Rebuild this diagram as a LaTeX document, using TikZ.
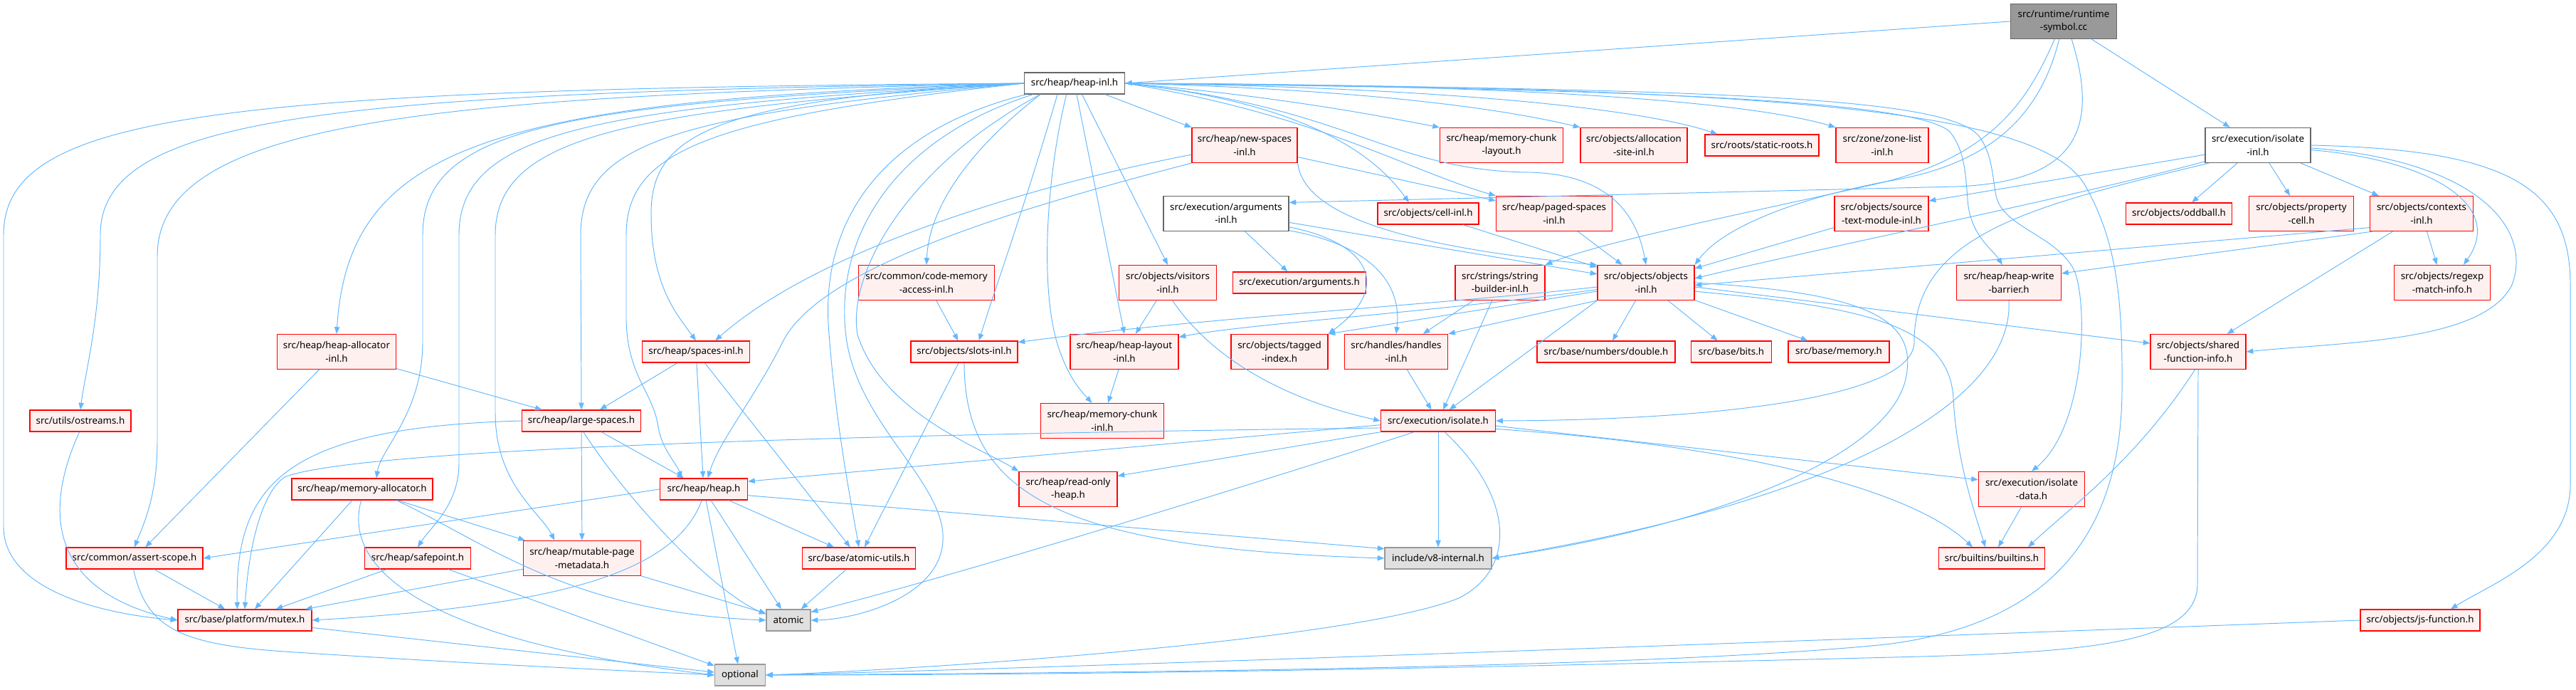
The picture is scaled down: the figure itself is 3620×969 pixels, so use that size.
\documentclass[tikz,border=0pt]{standalone}
\usepackage{fontspec}
\setmainfont{Noto Sans}
\usetikzlibrary{arrows.meta}
\definecolor{edgeblue}{HTML}{63B8FF}
\definecolor{incfill}{HTML}{FFF0F0}
\definecolor{sysfill}{HTML}{E0E0E0}
\definecolor{rootfill}{HTML}{999999}

\begin{document}
\begin{tikzpicture}[x=0.02cm, y=-0.02cm, font=\fontsize{7.6}{10.4}\selectfont,
    file/.style={draw=#1, line width=0.7pt, align=center, inner sep=1pt},
    inc/.style={file=red, fill=incfill},
    sys/.style={file=black!40, fill=sysfill},
    hdr/.style={file=black!60, fill=white},
    e/.style={draw=edgeblue, line width=0.55pt, -{Triangle[length=5.5pt,width=4.2pt]}}]
    \useasboundingbox (0,0) rectangle (3620,969);
    % Root
    \node[file=black!60, fill=rootfill, minimum width=149*0.02cm, minimum height=49*0.02cm]
        (root) at (2900,30) {src/runtime/runtime\\-symbol.cc};
    % Headers
    \foreach \n/\x/\y/\w/\h/\t in {heapinl/1510/117/141/30/{src/heap/heap-inl.h},
        isolateinl/3173/204/148/49/{src/execution/isolate\\-inl.h},
        argsinl/1723/300/176/49/{src/execution/arguments\\-inl.h}}
        \node[hdr, minimum width=\w*0.02cm, minimum height=\h*0.02cm] (\n) at (\x,\y) {\t};
    \foreach \n/\x/\y/\w/\h/\t in {v8internal/2021/784/150/30/{include/v8-internal.h},
        atomic/1108/871/62/30/{atomic}, optional/1040/948/71/30/{optional}}
        \node[sys, minimum width=\w*0.02cm, minimum height=\h*0.02cm] (\n) at (\x,\y) {\t};
    \foreach \n/\x/\y/\w/\h/\t in {
        newspaces/1749/204/148/49/{src/heap/new-spaces\\-inl.h},
        mclayout/2110/204/173/49/{src/heap/memory-chunk\\-layout.h},
        allocsite/2296/204/150/49/{src/objects/allocation\\-site-inl.h},
        staticroots/2476/204/160/30/{src/roots/static-roots.h},
        zonelist/2645/204/130/49/{src/zone/zone-list\\-inl.h},
        cellinl/2007/300/142/30/{src/objects/cell-inl.h},
        pagedspaces/2184/300/163/49/{src/heap/paged-spaces\\-inl.h},
        sourcetext/2644/300/132/49/{src/objects/source\\-text-module-inl.h},
        oddball/3062/300/149/30/{src/objects/oddball.h},
        propcell/3234/300/147/49/{src/objects/property\\-cell.h},
        contexts/3403/300/145/49/{src/objects/contexts\\-inl.h},
        codemem/1302/397/191/49/{src/common/code-memory\\-access-inl.h},
        visitors/1641/397/137/49/{src/objects/visitors\\-inl.h},
        args/1826/397/187/30/{src/execution/arguments.h},
        strbuilder/2108/397/126/49/{src/strings/string\\-builder-inl.h},
        objectsinl/2313/397/136/49/{src/objects/objects\\-inl.h},
        writebarrier/2823/397/147/49/{src/heap/heap-write\\-barrier.h},
        regexp/3432/397/135/49/{src/objects/regexp\\-match-info.h},
        heapalloc/473/494/167/49/{src/heap/heap-allocator\\-inl.h},
        spacesinl/978/494/151/30/{src/heap/spaces-inl.h},
        slotsinl/1355/494/150/30/{src/objects/slots-inl.h},
        heaplayout/1580/494/152/49/{src/heap/heap-layout\\-inl.h},
        tagged/1798/494/136/49/{src/objects/tagged\\-index.h},
        handles/1962/494/145/49/{src/handles/handles\\-inl.h},
        double/2257/494/194/30/{src/base/numbers/double.h},
        bits/2433/494/113/30/{src/base/bits.h},
        memory/2584/494/142/30/{src/base/memory.h},
        sfi/3089/494/134/49/{src/objects/shared\\-function-info.h},
        ostreams/113/591/142/30/{src/utils/ostreams.h},
        largespaces/817/591/167/30/{src/heap/large-spaces.h},
        mcinl/1549/591/173/49/{src/heap/memory-chunk\\-inl.h},
        isolate/2021/591/161/30/{src/execution/isolate.h},
        memalloc/509/687/198/30/{src/heap/memory-allocator.h},
        heap/989/687/123/30/{src/heap/heap.h},
        roheap/1501/687/138/49/{src/heap/read-only\\-heap.h},
        isolatedata/2855/687/149/49/{src/execution/isolate\\-data.h},
        assertscope/189/784/192/30/{src/common/assert-scope.h},
        safepoint/587/784/149/30/{src/heap/safepoint.h},
        mutablepage/818/784/165/49/{src/heap/mutable-page\\-metadata.h},
        atomicutils/1207/784/159/30/{src/base/atomic-utils.h},
        builtins/2799/784/149/30/{src/builtins/builtins.h},
        mutex/344/871/188/30/{src/base/platform/mutex.h},
        jsfunction/3401/871/168/30/{src/objects/js-function.h}}
        \node[inc, minimum width=\w*0.02cm, minimum height=\h*0.02cm] (\n) at (\x,\y) {\t};
    % runtime-symbol.cc
    \draw[e] (root.west) -- (heapinl.east);
    \draw[e] (root) -- (isolateinl);
    \draw[e] (root.243) .. controls (2850,140) and (2800,225) .. (2620,262) .. controls (2450,300) and (2250,340) .. (strbuilder.north east);
    \draw[e] (root.256) .. controls (2870,150) and (2810,230) .. (2650,255) .. controls (2520,280) and (2420,320) .. (objectsinl.north east);
    \draw[e] (root.294) .. controls (2950,180) and (2920,255) .. (2750,262) -- (argsinl.10);
    % heap-inl.h to the left
    \draw[e] (heapinl.west) .. controls (300,125) and (5,160) .. (5,330) -- (5,740) .. controls (5,820) and (120,860) .. (mutex.west);
    \draw[e] (heapinl.west) .. controls (450,130) and (141,165) .. (141,330) .. controls (141,450) and (120,520) .. (ostreams.north);
    \draw[e] (heapinl.west) .. controls (600,135) and (221,170) .. (221,360) -- (221,620) .. controls (221,700) and (200,740) .. (assertscope.north);
    \draw[e] (heapinl.west) .. controls (700,140) and (490,200) .. (heapalloc.north);
    \draw[e] (heapinl.west) .. controls (800,145) and (594,175) .. (594,330) -- (594,480) .. controls (594,580) and (535,630) .. (memalloc.38);
    \draw[e] (heapinl.west) .. controls (850,150) and (645,180) .. (645,330) -- (645,650) .. controls (645,710) and (605,740) .. (safepoint.north);
    \draw[e] (heapinl.west) .. controls (900,155) and (696,185) .. (696,330) -- (696,580) .. controls (696,680) and (760,720) .. (mutablepage.147);
    \draw[e] (heapinl.west) .. controls (950,160) and (816,200) .. (816,330) -- (largespaces.north);
    \draw[e] (heapinl.west) .. controls (1000,165) and (880,210) .. (880,330) -- (880,450) .. controls (882,530) and (918,550) .. (925,600) .. controls (930,630) and (950,650) .. (heap.153);
    \draw[e] (heapinl.west) .. controls (1000,140) and (915,190) .. (915,300) .. controls (915,400) and (950,440) .. (spacesinl.north);
    % heap-inl.h downwards
    \draw[e] (heapinl.198) .. controls (1350,220) and (1305,300) .. (codemem.north);
    \draw[e] (heapinl.213) .. controls (1440,290) and (1400,400) .. (slotsinl.37);
    \draw[e] (heapinl.281) -- (heaplayout.north);
    \draw[e] (heapinl.304) -- (visitors.north);
    \draw[e] (heapinl.340) -- (newspaces.north west);
    \draw[e] (heapinl.234) .. controls (1470,250) and (1462,400) .. (1485,480) .. controls (1500,530) and (1520,550) .. (mcinl.120);
    \draw[e] (heapinl.193) .. controls (1250,180) and (1150,300) .. (1165,469) .. controls (1175,600) and (1195,700) .. (atomicutils.north);
    \draw[e] (heapinl.195) .. controls (1240,200) and (1170,350) .. (1190,480) .. controls (1210,600) and (1330,680) .. (1325,760) .. controls (1320,840) and (1200,870) .. (atomic.east);
    \draw[e] (heapinl.198) .. controls (1280,230) and (1190,380) .. (1205,470) .. controls (1240,580) and (1380,630) .. (roheap.north west);
    % heap-inl.h to the right
    \draw[e] (heapinl.east) .. controls (1900,150) and (1950,240) .. (2150,242) .. controls (2260,245) and (2300,300) .. (objectsinl.north);
    \draw[e] (heapinl.east) .. controls (1850,160) and (1980,240) .. (pagedspaces.north west);
    \draw[e] (heapinl.east) .. controls (1800,140) and (1920,200) .. (cellinl.150);
    \draw[e] (heapinl.east) .. controls (1800,135) and (1950,165) .. (mclayout.north west);
    \draw[e] (heapinl.east) .. controls (1900,125) and (2100,150) .. (allocsite.north west);
    \draw[e] (heapinl.east) .. controls (2000,122) and (2300,150) .. (staticroots.166);
    \draw[e] (heapinl.east) .. controls (2100,118) and (2450,140) .. (zonelist.north west);
    \draw[e] (heapinl.east) .. controls (2300,125) and (2690,140) .. (2740,185) .. controls (2760,210) and (2762,240) .. (2765,280) .. controls (2768,330) and (2800,350) .. (writebarrier.110);
    \draw[e] (heapinl.east) .. controls (2400,125) and (2730,135) .. (2780,190) .. controls (2800,215) and (2800,250) .. (2805,275) .. controls (2815,320) and (2890,330) .. (2915,380) .. controls (2935,430) and (2930,600) .. (isolatedata.north);
    \draw[e] (heapinl.east) .. controls (2550,122) and (2870,160) .. (2930,260) .. controls (2975,340) and (2983,420) .. (2982,550) .. controls (2980,780) and (2850,880) .. (2650,905) .. controls (2300,940) and (1500,945) .. (optional.east);
    % new-spaces-inl.h
    \draw[e] (newspaces.190) .. controls (1450,260) and (1150,350) .. (spacesinl.30);
    \draw[e] (newspaces.south west) .. controls (1400,300) and (1150,380) .. (1100,480) .. controls (1060,560) and (1010,620) .. (heap.70);
    \draw[e] (newspaces) -- (pagedspaces);
    \draw[e] (newspaces.south east) .. controls (1830,280) and (1900,340) .. (objectsinl.160);
    % arguments-inl.h
    \draw[e] (argsinl) -- (args);
    \draw[e] (argsinl.-8) -- (objectsinl.170);
    \draw[e] (argsinl.-12) .. controls (1920,340) and (1960,400) .. (tagged.north east);
    \draw[e] (argsinl.-15) .. controls (1930,345) and (1970,400) .. (handles.north);
    % objects-inl.h
    \draw[e] (cellinl) -- (objectsinl);
    \draw[e] (pagedspaces) -- (objectsinl);
    \draw[e] (sourcetext) -- (objectsinl);
    \draw[e] (objectsinl.190) -- (tagged.north east);
    \draw[e] (objectsinl.200) -- (handles.north east);
    \draw[e] (objectsinl.185) .. controls (2000,430) and (1700,445) .. (slotsinl.10);
    \draw[e] (objectsinl.188) .. controls (2000,440) and (1750,455) .. (heaplayout.15);
    \draw[e] (objectsinl) -- (double);
    \draw[e] (objectsinl) -- (bits);
    \draw[e] (objectsinl) -- (memory);
    \draw[e] (objectsinl.south west) -- (isolate.45);
    \draw[e] (objectsinl.-5) -- (sfi.170);
    \draw[e] (objectsinl.-10) .. controls (2600,430) and (2740,450) .. (2745,560) .. controls (2750,650) and (2775,720) .. (builtins.120);
    \draw[e] (objectsinl.east) .. controls (2600,410) and (2690,440) .. (2680,520) .. controls (2670,640) and (2400,740) .. (v8internal.east);
    % isolate-inl.h
    \draw[e] (isolateinl.190) -- (sourcetext.15);
    \draw[e] (isolateinl.197) .. controls (2900,280) and (2550,350) .. (objectsinl.5);
    \draw[e] (isolateinl.200) .. controls (2850,290) and (2690,330) .. (2690,480) .. controls (2690,560) and (2400,590) .. (isolate.east);
    \draw[e] (isolateinl) -- (oddball);
    \draw[e] (isolateinl) -- (propcell);
    \draw[e] (isolateinl) -- (contexts);
    \draw[e] (isolateinl.-5) .. controls (3420,225) and (3520,290) .. (regexp.40);
    \draw[e] (isolateinl.-3) .. controls (3480,225) and (3560,320) .. (3530,400) .. controls (3490,480) and (3300,480) .. (sfi.east);
    \draw[e] (isolateinl.east) .. controls (3520,210) and (3612,260) .. (3612,400) -- (3612,680) .. controls (3612,780) and (3500,820) .. (jsfunction.20);
    % contexts-inl.h
    \draw[e] (contexts.195) -- (objectsinl.-3);
    \draw[e] (contexts.200) -- (writebarrier.10);
    \draw[e] (contexts) -- (sfi);
    \draw[e] (contexts) -- (regexp);
    % middle rows
    \draw[e] (codemem) -- (slotsinl);
    \draw[e] (visitors) -- (heaplayout);
    \draw[e] (visitors.-75) .. controls (1700,500) and (1800,560) .. (isolate.west);
    \draw[e] (strbuilder) -- (handles);
    \draw[e] (strbuilder) -- (isolate);
    \draw[e] (handles) -- (isolate);
    \draw[e] (writebarrier.south) .. controls (2830,560) and (2600,700) .. (v8internal.east);
    \draw[e] (sfi.260) .. controls (3000,650) and (2900,720) .. (builtins.17);
    \draw[e] (sfi.south) -- (3088,820) .. controls (3088,900) and (2950,915) .. (2700,922) .. controls (2000,940) and (1500,948) .. (optional.east);
    \draw[e] (isolatedata) -- (builtins);
    \draw[e] (jsfunction.west) .. controls (2800,890) and (1600,935) .. (optional.east);
    % isolate.h
    \draw[e] (isolate.184) -- (heap.10);
    \draw[e] (isolate.187) .. controls (1200,610) and (500,630) .. (400,670) .. controls (370,690) and (350,760) .. (mutex.north);
    \draw[e] (isolate.191) -- (roheap.15);
    \draw[e] (isolate.205) .. controls (1700,700) and (1300,820) .. (atomic.20);
    \draw[e] (isolate) -- (v8internal);
    \draw[e] (isolate.300) .. controls (2130,700) and (2130,800) .. (2050,840) .. controls (1900,900) and (1300,940) .. (optional.east);
    \draw[e] (isolate.-5) -- (isolatedata.170);
    \draw[e] (isolate.-8) .. controls (2500,630) and (2700,700) .. (builtins.150);
    % left part
    \draw[e] (heapalloc) -- (largespaces);
    \draw[e] (heapalloc) -- (assertscope);
    \draw[e] (ostreams.265) .. controls (60,720) and (70,830) .. (mutex.west);
    \draw[e] (spacesinl) -- (largespaces);
    \draw[e] (spacesinl) -- (heap);
    \draw[e] (spacesinl) -- (atomicutils);
    \draw[e] (slotsinl) -- (atomicutils);
    \draw[e] (slotsinl.south) .. controls (1355,700) and (1500,770) .. (v8internal.west);
    \draw[e] (heaplayout) -- (mcinl);
    \draw[e] (largespaces.west) .. controls (400,600) and (330,680) .. (mutex.124);
    \draw[e] (largespaces) -- (mutablepage);
    \draw[e] (largespaces) -- (heap);
    \draw[e] (largespaces.-80) .. controls (880,700) and (1000,830) .. (atomic.165);
    \draw[e] (memalloc) -- (mutex);
    \draw[e] (memalloc) -- (mutablepage);
    \draw[e] (memalloc.-18) .. controls (680,760) and (800,860) .. (atomic.west);
    \draw[e] (memalloc.265) .. controls (480,800) and (600,900) .. (optional.west);
    \draw[e] (heap.west) -- (assertscope.east);
    \draw[e] (heap.260) .. controls (950,800) and (800,850) .. (mutex.east);
    \draw[e] (heap) -- (atomicutils);
    \draw[e] (heap) -- (atomic);
    \draw[e] (heap) -- (optional);
    \draw[e] (heap.-8) -- (v8internal.170);
    \draw[e] (assertscope) -- (mutex);
    \draw[e] (assertscope.265) .. controls (205,880) and (250,905) .. (400,915) .. controls (700,935) and (950,945) .. (optional.west);
    \draw[e] (safepoint) -- (mutex);
    \draw[e] (safepoint) -- (optional);
    \draw[e] (mutablepage) -- (mutex);
    \draw[e] (mutablepage) -- (atomic);
    \draw[e] (atomicutils) -- (atomic);
    \draw[e] (mutex) -- (optional);
\end{tikzpicture}
\end{document}
